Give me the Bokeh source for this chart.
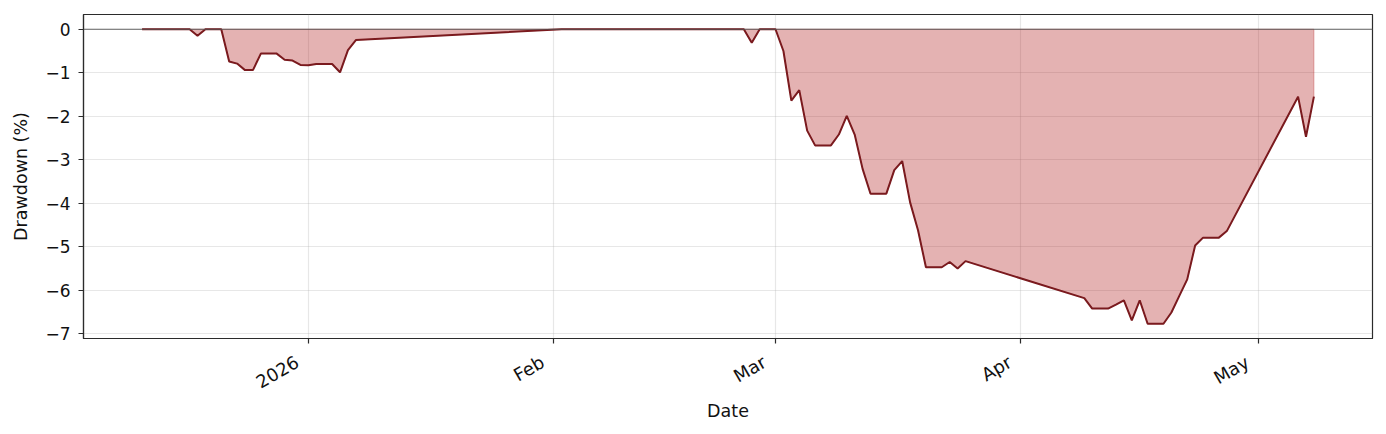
import datetime as dt
from math import pi
from bokeh.plotting import figure
from bokeh.models import Range1d, FixedTicker, Span, DatetimeAxis, CustomLabelingPolicy
from bokeh.embed import file_html
from bokeh.resources import INLINE

# ---- data -------------------------------------------------------------
dates = [
    "2025-12-11", "2025-12-12", "2025-12-13", "2025-12-14", "2025-12-15", "2025-12-16",
    "2025-12-17", "2025-12-18", "2025-12-19", "2025-12-20", "2025-12-21", "2025-12-22",
    "2025-12-23", "2025-12-24", "2025-12-25", "2025-12-26", "2025-12-27", "2025-12-28",
    "2025-12-29", "2025-12-30", "2025-12-31", "2026-01-01", "2026-01-02", "2026-01-03",
    "2026-01-04", "2026-01-05", "2026-01-06", "2026-01-07",
    "2026-02-02", "2026-02-03", "2026-02-04", "2026-02-05", "2026-02-06", "2026-02-07",
    "2026-02-08", "2026-02-09", "2026-02-10", "2026-02-11", "2026-02-12", "2026-02-13",
    "2026-02-14", "2026-02-15", "2026-02-16", "2026-02-17", "2026-02-18", "2026-02-19",
    "2026-02-20", "2026-02-21", "2026-02-22", "2026-02-23", "2026-02-24", "2026-02-25",
    "2026-02-26", "2026-02-27", "2026-02-28", "2026-03-01", "2026-03-02", "2026-03-03",
    "2026-03-04", "2026-03-05", "2026-03-06", "2026-03-07", "2026-03-08", "2026-03-09",
    "2026-03-10", "2026-03-11", "2026-03-12", "2026-03-13", "2026-03-14", "2026-03-15",
    "2026-03-16", "2026-03-17", "2026-03-18", "2026-03-19", "2026-03-20", "2026-03-21",
    "2026-03-22", "2026-03-23", "2026-03-24", "2026-03-25",
    "2026-04-09", "2026-04-10", "2026-04-11", "2026-04-12", "2026-04-13", "2026-04-14",
    "2026-04-15", "2026-04-16", "2026-04-17", "2026-04-18", "2026-04-19", "2026-04-20",
    "2026-04-21", "2026-04-22", "2026-04-23", "2026-04-24", "2026-04-25", "2026-04-26",
    "2026-04-27",
    "2026-05-06", "2026-05-07", "2026-05-08",
]
drawdown = [
    0.0, 0.0, 0.0, 0.0, 0.0, 0.0,
    0.0, -0.15, 0.0, 0.0, 0.0, -0.74,
    -0.79, -0.94, -0.94, -0.56, -0.56, -0.56,
    -0.70, -0.72, -0.82, -0.83, -0.80, -0.80,
    -0.80, -0.99, -0.48, -0.25,
    0.0, 0.0, 0.0, 0.0, 0.0, 0.0,
    0.0, 0.0, 0.0, 0.0, 0.0, 0.0,
    0.0, 0.0, 0.0, 0.0, 0.0, 0.0,
    0.0, 0.0, 0.0, 0.0, 0.0, 0.0,
    -0.31, 0.0, 0.0, 0.0, -0.50, -1.64,
    -1.40, -2.33, -2.67, -2.67, -2.67, -2.42,
    -1.99, -2.42, -3.21, -3.78, -3.78, -3.78,
    -3.24, -3.03, -3.98, -4.62, -5.47, -5.47,
    -5.47, -5.35, -5.50, -5.33,
    -6.18, -6.42, -6.42, -6.42, -6.33, -6.23,
    -6.69, -6.23, -6.77, -6.77, -6.77, -6.51,
    -6.13, -5.75, -4.97, -4.79, -4.79, -4.79,
    -4.64,
    -1.55, -2.47, -1.55,
]
x_tick_dates = ["2026-01-01", "2026-02-01", "2026-03-01", "2026-04-01", "2026-05-01"]
x_tick_labels = ["2026", "Feb", "Mar", "Apr", "May"]
y_ticks = [0, -1, -2, -3, -4, -5, -6, -7]
y_tick_labels = ["0", "\u22121", "\u22122", "\u22123", "\u22124", "\u22125", "\u22126", "\u22127"]

# ---- helpers ----------------------------------------------------------
EPOCH = dt.datetime(1970, 1, 1)
DAY_MS = 86400000.0
def to_ms(s):
    return (dt.datetime.strptime(s, "%Y-%m-%d") - EPOCH).total_seconds() * 1000.0

x = [to_ms(d) for d in dates]
xt = [to_ms(d) for d in x_tick_dates]

FONT = "DejaVu Sans"
DARK = "#2b2b2b"
TXT = "#111111"
LABEL_SHIFT_DAYS = 1.4   # rotated labels end just left of their tick (matplotlib style)

xmin, xmax = min(x), max(x)
xpad = 0.05 * (xmax - xmin)
ymin, ymax = min(drawdown), max(drawdown)
ypad = 0.05 * (ymax - ymin)

p = figure(
    width=1378, height=426,
    x_axis_type="datetime",
    x_range=Range1d(xmin - xpad, xmax + xpad),
    y_range=Range1d(ymin - ypad, ymax + ypad),
    output_backend="svg", toolbar_location=None,
    min_border_left=83, min_border_right=6, min_border_top=14, min_border_bottom=88,
    background_fill_color="white", border_fill_color="white",
)
p.outline_line_color = DARK
p.outline_line_width = 1.2
p.outline_line_alpha = 1.0

# grid
p.xgrid.ticker = FixedTicker(ticks=xt)
p.ygrid.ticker = FixedTicker(ticks=y_ticks)
for g in (p.xgrid, p.ygrid):
    g.grid_line_color = "#b0b0b0"
    g.grid_line_alpha = 0.3
    g.grid_line_width = 1.2

# main axes (x axis: tick marks only, its labels are drawn by the axis below)
p.xaxis.ticker = FixedTicker(ticks=xt)
p.xaxis.major_label_text_font_size = "0px"
p.xaxis.major_label_standoff = 0
p.xaxis.major_label_overrides = {t: "" for t in xt}
p.xaxis.major_label_policy = CustomLabelingPolicy(code="""
    const all = [...indices]
    for (const i of all) indices.unset(i)
    return indices
""")
p.yaxis.ticker = FixedTicker(ticks=y_ticks)
p.yaxis.major_label_overrides = {t: l for t, l in zip(y_ticks, y_tick_labels)}
p.yaxis.axis_label = "Drawdown (%)"
for ax in (p.xaxis, p.yaxis):
    ax.axis_line_color = DARK
    ax.axis_line_width = 1.2
    ax.major_tick_line_color = DARK
    ax.major_tick_line_width = 1.2
    ax.major_tick_out = 5
    ax.major_tick_in = 0
    ax.minor_tick_line_color = None
p.yaxis.major_label_text_font = FONT
p.yaxis.major_label_text_font_size = "17px"
p.yaxis.major_label_text_color = TXT
p.yaxis.major_label_standoff = 8
p.yaxis.axis_label_text_font = FONT
p.yaxis.axis_label_text_font_size = "17.5px"
p.yaxis.axis_label_text_font_style = "normal"
p.yaxis.axis_label_text_color = TXT
p.yaxis.axis_label_standoff = 11

# label-only date axis (rotated, right-aligned just left of each tick)
xt_lab = [t - LABEL_SHIFT_DAYS * DAY_MS for t in xt]
lab_axis = DatetimeAxis(
    ticker=FixedTicker(ticks=xt_lab),
    major_label_overrides={t: l for t, l in zip(xt_lab, x_tick_labels)},
    major_label_orientation=pi / 6,
    axis_line_color=None, major_tick_line_color=None, minor_tick_line_color=None,
    major_tick_out=0, major_tick_in=0, major_label_standoff=17,
    major_label_text_font=FONT, major_label_text_font_size="18px",
    major_label_text_color=TXT,
    axis_label="Date", axis_label_text_font=FONT, axis_label_text_font_size="17.5px",
    axis_label_text_font_style="normal", axis_label_text_color=TXT,
    axis_label_standoff=-4,
)
p.add_layout(lab_axis, "below")

# fill between 0 and drawdown
fill_x = x + x[::-1]
fill_y = drawdown + [0.0] * len(x)
p.patch(fill_x, fill_y, fill_color="#b22222", fill_alpha=0.35,
        line_color="#b22222", line_alpha=0.35, line_width=1)

# drawdown line
p.line(x, drawdown, line_color="#7a1a1e", line_width=2.0)

# zero line
p.add_layout(Span(location=0, dimension="width", line_color="#555555",
                  line_width=1.2, line_alpha=0.9))

open("out.html", "w").write(file_html(p, INLINE))
